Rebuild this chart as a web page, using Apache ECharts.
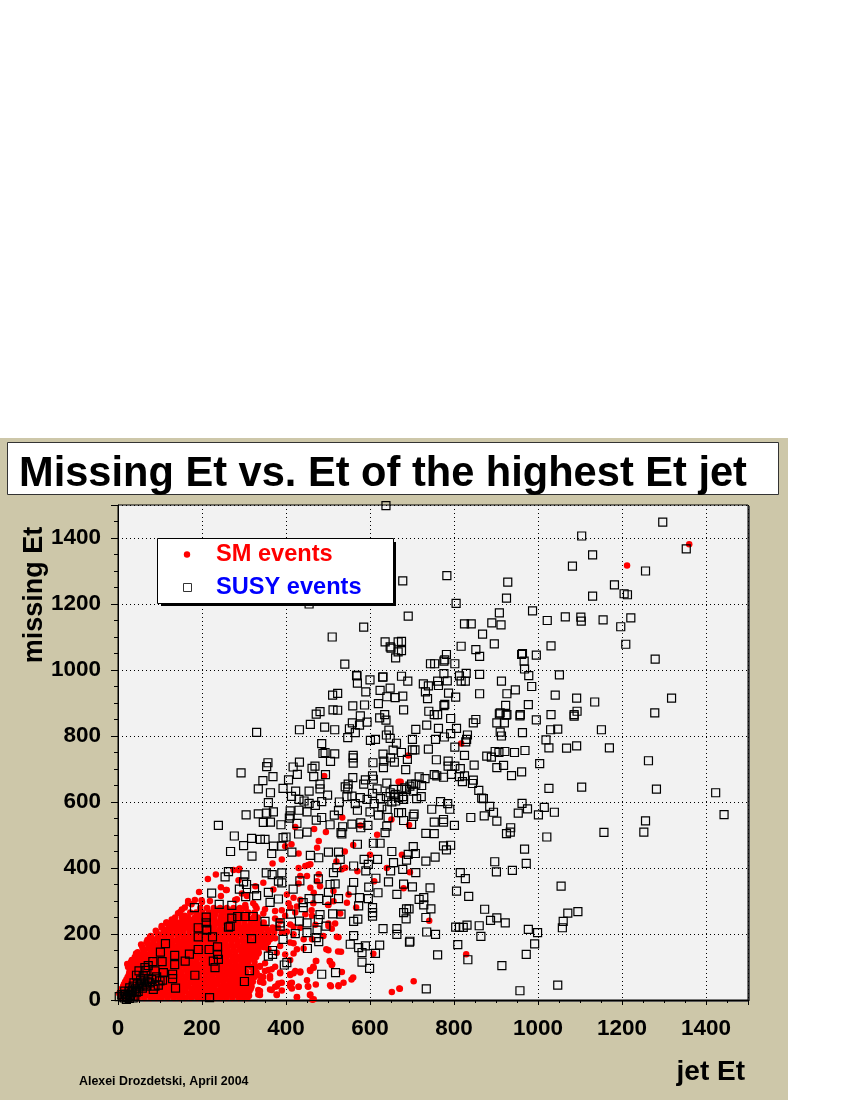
<!DOCTYPE html>
<html><head><meta charset="utf-8">
<style>html,body{margin:0;padding:0;background:#fff}#c{width:850px;height:1100px}</style>
<script src="https://cdn.jsdelivr.net/npm/echarts@6/dist/echarts.min.js"></script></head>
<body><div id="c"></div>
<script>
const xTicksMax = 1500, yTicksMax = 1500;
const titleText = 'Missing Et vs. Et of the highest Et jet';
const xName = 'jet Et', yName = 'missing Et', credit = 'Alexei Drozdetski, April 2004';
const smName = 'SM events', susyName = 'SUSY events';

// SM events: dense core, read row by row as [missing Et, [jet Et ...]]
const smCoreRows = [
[6,[8,22,35,49,63,78,91,104,118,133,147,160,174,189,202,216,231,245,258,272,287,299,308]],
[13,[12,28,44,60,75,90,106,122,137,152,168,183,199,214,229,244,259,275,290,304,312]],
[20,[3,15,29,43,56,70,85,98,111,126,140,153,168,181,196,209,224,238,251,265,280,293,306]],
[27,[6,20,36,52,67,82,98,113,129,145,160,176,191,207,222,238,253,268,284,299,313]],
[34,[9,22,36,50,63,77,92,105,119,132,147,161,175,188,203,216,230,245,258,272,286,300,316]],
[41,[12,27,43,59,74,90,105,121,136,152,167,183,198,214,229,245,260,276,291,307,318]],
[48,[14,28,42,57,70,84,97,112,125,139,154,168,182,195,210,223,237,252,265,279,293,307]],
[55,[17,33,49,64,80,95,111,126,142,157,173,188,204,219,235,250,266,281,297,312,321]],
[62,[20,35,48,63,76,91,104,118,132,146,160,175,188,202,216,231,244,258,273,286,300,311]],
[70,[23,38,54,69,85,100,116,131,147,162,178,193,209,224,240,255,271,286,302,317,325]],
[77,[26,40,54,68,83,97,110,125,139,152,167,181,194,209,223,238,251,265,280,293,304]],
[85,[27,43,58,74,89,105,120,136,151,167,182,198,213,229,244,260,275,291,306,322,328]],
[92,[30,45,60,74,88,103,117,131,145,160,173,188,201,216,230,245,258,272,286,298]],
[100,[24,38,54,69,85,100,116,131,147,162,178,193,209,224,240,255,271,286,302,317,327]],
[107,[36,50,65,80,94,108,122,137,151,165,180,194,208,222,237,251,265,279,293,306]],
[115,[31,47,62,78,93,109,124,140,155,171,186,202,217,233,248,264,279,295,310,325]],
[122,[44,58,72,87,101,115,130,144,158,172,187,201,215,230,243,258,272,286,300,312]],
[130,[40,56,71,87,102,118,133,149,164,180,195,211,226,242,257,273,288,304,319,329]],
[137,[53,67,81,95,110,124,138,152,167,181,195,210,224,238,252,266,280,295,308,318]],
[145,[47,62,78,93,109,124,140,155,171,186,202,217,233,248,264,279,295,310,325,335]],
[152,[62,76,90,104,118,133,147,161,175,190,204,218,232,247,261,275,289,303,316,326]],
[160,[58,74,89,105,120,136,151,167,182,198,213,229,244,260,275,291,306,322,336,348]],
[167,[72,86,100,114,128,143,157,171,185,200,214,228,243,257,271,285,299,313,327,340]],
[175,[68,84,99,115,130,146,161,177,192,208,223,239,254,270,285,301,316,332,345,357]],
[182,[84,98,112,126,140,155,169,183,198,212,226,240,255,269,283,297,312,326,338,348]],
[190,[80,95,111,126,142,157,173,188,204,219,235,250,266,281,297,312,328,343,356,366]],
[197,[98,112,127,141,155,170,184,198,212,227,241,255,270,284,298,312,326,340,352]],
[205,[92,108,123,139,154,170,185,201,216,232,247,263,278,294,309,325,340,356,372]],
[212,[112,126,141,155,170,184,198,213,227,241,256,270,284,299,313,327,342,356]],
[220,[104,120,135,151,166,182,197,213,228,244,259,275,290,306,321,337,352,368,381]],
[228,[128,143,157,172,186,200,215,229,243,258,272,286,301,315,330,344]],
[235,[115,131,146,162,177,193,208,224,239,255,270,286,301,317,332,347]],
[243,[158,172,186,201,215,229,244,258,272,287,301,315,330]],
[250,[136,152,167,183,198,214,229,245,260,276,291,307,322,333]],
[258,[188,203,217,231,246,260,274,289,303]],
[265,[172,186,201,217,232,248,263,279,294,310,325]],
[272,[228,243,257,271,286]],
[279,[196,212,228,243,259,275,290,304]]
];
// SM events: sparse tail
const smTail = [[214,367],[233,380],[193,327],[245,342],[257,333],[245,315],[199,302],[219,300],[275,394],[289,398],[148,267],[167,300],[175,290],[159,280],[159,255],[116,234],[135,239],[78,194],[60,153],[36,118],
[368,414],[390,426],[398,466],[413,472],[430,444],[478,482],[474,461],[446,406],[458,411],[434,376],[450,376],[478,381],[474,360],[513,330],[533,396],[541,401],[549,320],[545,295],[567,280],[513,299],[500,289],[501,224],[509,216],[521,192],[434,304],[466,325],[481,345],[458,340],[418,310],[402,320],[370,335],[346,355],[327,345],[307,315],[283,305],[327,285],[350,275],[374,270],[398,255],[410,280],[422,265],[446,260],[462,255],[470,228],[434,219],[410,229],[386,239],[370,214],[390,204],[418,199],[442,184],[462,184],[489,194],[410,174],[386,164],[362,184],[346,184],[334,159],[358,154],[378,143],[398,138],[426,154],[496,154],[524,147],[472,118],[504,118],[510,108],[533,85],[466,98],[458,88],[434,83],[422,88],[410,78],[386,83],[366,93],[338,103],[350,88],[362,73],[338,73],[346,52],[330,83],[390,52],[378,42],[410,42],[414,52],[430,40],[452,42],[362,32],[338,27],[334,17],[378,17],[390,29],[426,9],[458,17],[466,2],[505,45],[525,45],[537,52],[556,62],[560,68],[652,24],[670,35],[608,140],
[491,679],[534,553],[422,524],[467,518],[495,509],[577,529],[617,501],[651,547],[668,661],[817,777],[691,741],[673,661],[693,530],[676,440],[695,387],[680,339],[741,240],[829,139],[704,57],[671,34],
[1212,1317],[1360,1381],[430,400],[520,420],[560,470],[600,440],[640,400],[610,360],[570,390],[540,450],
[453,409],[287,394],[287,363],[259,333],[295,323],[322,293],[279,303],[303,288],[346,262],[330,278],[374,247],[390,272],[430,353],[406,293],[426,283],[461,272],[501,288],[529,262],[517,232],[465,293],[501,232],[418,222],[402,207],[358,207],[342,192],[374,187],[354,172],[338,161],[334,141],[418,172],[418,141],[410,121],[442,156],[501,151],[531,146],[525,190],[471,118],[505,116],[509,106],[465,101],[457,91],[434,86],[418,81],[410,76],[386,81],[374,101],[350,111],[338,101],[358,91],[362,65],[346,70],[338,55],[382,50],[374,40],[410,50],[430,40],[450,60],[453,40],[471,47],[414,35],[366,30],[334,30],[338,15],[378,15],[426,8],[457,15],[463,1],[507,42],[525,42],
[33,121],[22,109],[43,141],[55,168],[70,182],[76,191],[90,210],[117,233],[143,263],[167,294],[183,303],[200,297],[128,244],[104,224],[152,274]];

// SUSY events
const susyHigh = [[1297,1448],[1104,1406],[1353,1367],[1130,1349],[1082,1315],[1256,1300],[1182,1258],[1205,1231],[1213,1228],[1130,1224],[928,1266],[925,1218],[783,1286],[678,1270],[805,1202],[908,1173],[987,1179],[691,1163],[1022,1150],[1065,1161],[1102,1160],[1103,1148],[1155,1152],[1221,1158],[1197,1131],[1209,1078],[1279,1033],[825,1140],[841,1140],[890,1143],[912,1137],[868,1109],[896,1079],[817,1072],[852,1062],[861,1041],[1031,1073],[963,1050],[961,1047],[996,1045],[967,1027],[968,1003],[978,983],[1051,985],[985,950],[1041,924],[913,966],[946,940],[926,928],[861,987],[861,928],[1092,915],[1135,903],[1318,915],[923,893],[977,895],[1031,865],[1093,875],[1278,870],[782,1047],[778,1031],[776,1027],[744,1019],[754,1019],[802,1019],[675,1087],[675,1059],[776,989],[813,982],[829,990],[817,966],[827,966],[690,966],[675,981],[727,958],[739,952],[763,953],[761,966],[784,967],[732,934],[737,913],[787,930],[804,918],[678,921],[680,879],[778,896],[776,892],[740,875],[761,865],[753,865],[910,870],[926,865],[958,865],[1086,865],
[638,1498],[455,1200],[510,1100],[585,1130],[636,1085],[648,1070],[650,1066],[667,1085],[667,1055],[661,1037],[540,1018],[569,982],[631,979]];
const susyRight = [[1086,860],[957,861],[996,849],[908,867],[924,863],[902,840],[920,840],[852,850],[846,840],[792,853],[806,823],[763,823],[735,833],[709,820],[792,807],[777,797],[756,790],[701,790],[910,812],[913,800],[963,810],[1030,819],[1047,821],[1151,819],[1019,788],[832,803],[830,790],[828,782],[802,766],[825,741],[1026,764],[1068,763],[1092,770],[1170,764],[969,756],[944,750],[921,753],[907,750],[898,753],[878,739],[889,736],[848,712],[918,711],[902,704],[961,691],[937,680],[1004,716],[1263,725],[758,728],[786,724],[786,709],[802,709],[815,701],[739,760],[707,758],[701,758],[689,729],[675,750],[685,698],[717,676],[731,671],[753,683],[759,679],[775,675],[794,684],[813,677],[825,679],[820,662],[846,666],[844,656],[859,635],[866,612],[870,610],[1026,641],[1104,645],[1282,639],[1423,628],[1443,562],[1256,543],[1252,509],[1157,508],[1021,494],[962,596],[975,579],[1015,584],[1039,569],[953,566],[1001,561],[885,587],[894,569],[872,558],[840,553],[902,542],[935,522],[934,509],[925,504],[968,457],[972,414],[897,419],[901,388],[939,393],[815,386],[827,368],[806,330],[835,314],[1055,345],[1095,268],[1071,263],[1060,238],[1058,219],[873,275],[887,241],[902,249],[922,234],[860,225],[831,227],[822,220],[813,220],[804,221],[977,214],[999,204],[992,170],[972,138],[864,193],[809,168],[761,137],[833,122],[914,104],[1047,45],[957,28],[734,34],[695,178],[694,175],[735,206],[756,199],[792,469],[775,467],[782,455],[703,465],[755,433],[733,421],[708,444],[691,441],[687,424],[678,396],[709,386],[701,343],[743,340],[680,351],[717,305],[728,310],[728,288],[745,276],[733,250],[693,276],[687,276],[686,246],[680,265],[747,578],[768,601],[785,595],[790,578],[753,539],[733,505],[753,504],[775,547],[775,539],[801,529],[705,563],[703,556],[675,568],[680,544],[699,532],[711,610],[722,616],[680,608],[683,643],[695,648],[687,638],[678,616],[675,638],[723,650],[703,633],[699,654],[709,654]];
const susyMid = [[330,811],[568,984],[600,970],[630,978],[570,960],[624,938],[648,945],[590,934],[640,919],[660,916],[511,924],[523,929],[620,898],[587,894],[559,891],[481,874],[472,866],[512,879],[523,878],[458,835],[432,819],[492,827],[516,819],[577,861],[558,840],[593,842],[575,833],[623,855],[635,865],[638,848],[551,822],[565,810],[547,795],[601,787],[613,790],[645,818],[639,803],[648,793],[663,778],[485,777],[493,750],[488,747],[516,746],[560,741],[560,734],[560,718],[506,723],[607,719],[655,757],[631,745],[633,724],[649,734],[658,721],[632,704],[432,721],[357,719],[354,707],[417,706],[293,688],[427,684],[462,702],[469,709],[466,677],[494,683],[369,677],[345,665],[406,667],[334,640],[393,641],[363,628],[423,633],[455,633],[499,621],[481,654],[481,640],[559,674],[606,679],[608,669],[589,667],[585,654],[548,654],[541,646],[547,640],[640,657],[656,638],[606,626],[413,617],[431,608],[443,603],[455,596],[358,598],[485,601],[527,600],[565,595],[557,618],[545,616],[577,613],[593,608],[639,616],[657,618],[661,603],[641,578],[643,553],[525,574],[354,566],[334,564],[305,561],[370,570],[410,573],[410,558],[431,575],[408,551],[239,529],[346,538],[363,539],[388,531],[426,535],[472,545],[485,553],[505,531],[557,533],[535,525],[578,537],[578,522],[595,529],[640,527],[636,507],[450,509],[430,503],[531,507],[533,503],[277,497],[318,490],[339,487],[350,487],[393,492],[400,494],[648,628],[660,623],[668,613],[668,568],[617,640],[625,610],[610,595],[628,585],[652,600],[620,560],[600,570],[570,575],[515,560],[450,570],[470,590]];
const susyLow = [[268,450],[299,468],[319,436],[366,444],[370,466],[390,466],[414,448],[458,438],[478,431],[501,448],[525,448],[529,426],[570,472],[608,475],[624,475],[652,450],[618,426],[586,426],[596,411],[561,406],[656,416],[649,391],[590,391],[614,369],[644,358],[664,320],[263,389],[255,373],[302,379],[299,358],[306,350],[223,324],[289,336],[325,337],[353,385],[367,380],[390,385],[382,360],[390,355],[330,316],[358,326],[362,296],[382,306],[304,313],[417,336],[433,361],[477,367],[513,386],[521,401],[561,356],[517,352],[505,350],[557,333],[501,326],[597,342],[619,325],[455,307],[478,307],[441,295],[441,280],[497,302],[525,307],[575,310],[596,307],[573,285],[606,280],[606,265],[606,254],[511,261],[531,260],[182,280],[241,290],[271,287],[210,251],[210,234],[211,214],[285,253],[271,248],[267,223],[263,221],[302,253],[322,253],[350,238],[411,260],[386,234],[386,224],[432,239],[450,234],[450,204],[422,201],[481,259],[477,244],[495,224],[474,212],[561,238],[571,245],[631,216],[664,216],[664,199],[561,195],[472,189],[478,177],[553,169],[573,159],[589,164],[581,144],[623,166],[613,141],[581,115],[599,96],[393,184],[451,156],[191,219],[191,191],[211,212],[225,191],[318,186],[113,171],[101,145],[135,135],[191,153],[217,153],[170,139],[160,118],[237,161],[237,138],[239,123],[227,118],[231,98],[135,107],[105,116],[83,116],[64,98],[130,78],[130,65],[108,83],[88,88],[183,75],[137,36],[313,89],[301,56],[218,7],[358,133],[368,150],[368,138],[402,113],[396,106],[485,78],[518,83]];
const susyOrigin = [[20,2],[3,10],[16,27],[28,37],[36,42],[40,12],[52,42],[68,42],[84,32],[24,17],[32,22],[12,12],[44,75],[60,73],[64,58],[76,52],[88,42],[56,52],[72,63],[22,8],[30,14],[18,18],[26,26],[34,30],[42,34],[48,26],[46,48],[38,52],[54,60],[62,46],[70,55],[80,62],[92,70],[100,58],[96,45],[106,60],[27,5],[15,6],[9,16],[36,6],[44,24],[58,36],[66,90],[72,104],[50,88]];

const smData = smCoreRows.flatMap(([y, xs]) => xs.map(x => [x, y])).concat(smTail);
const susyData = [].concat(susyHigh, susyRight, susyMid, susyLow, susyOrigin);

const FONT = '"Liberation Sans", Arial, sans-serif';
const chart = echarts.init(document.getElementById('c'), null, {renderer:'canvas'});
const plain = v => String(v);
chart.setOption({
  animation:false,
  backgroundColor:'#ffffff',
  title:{text:titleText,left:14,top:449,textStyle:{fontFamily:FONT,fontWeight:'bold',fontSize:41.6,color:'#000'}},
  grid:{left:118,top:505,right:102,bottom:100,show:true,backgroundColor:'#f2f2f2',borderColor:'#000',borderWidth:1},
  tooltip:{show:false},
  xAxis:{type:'value',min:0,max:xTicksMax,interval:200,z:5,
    name:xName,nameLocation:'end',nameGap:0,
    nameTextStyle:{fontFamily:FONT,fontWeight:'bold',fontSize:28,color:'#000',align:'right',verticalAlign:'top',padding:[58,3,0,0]},
    axisLine:{show:true,onZero:false,lineStyle:{color:'#000',width:1}},
    axisTick:{show:true,length:5,lineStyle:{color:'#000'}},
    minorTick:{show:true,splitNumber:4,length:3,lineStyle:{color:'#000'}},
    axisLabel:{showMaxLabel:false,formatter:plain,fontFamily:FONT,fontWeight:'bold',fontSize:22.5,color:'#000',margin:17},
    splitLine:{show:true,lineStyle:{type:[1,3],color:'#000',width:1}},minorSplitLine:{show:false}},
  yAxis:{type:'value',min:0,max:yTicksMax,interval:200,z:5,
    name:yName,nameLocation:'end',nameGap:-90,nameRotate:90,
    nameTextStyle:{fontFamily:FONT,fontWeight:'bold',fontSize:27,color:'#000',align:'center',verticalAlign:'bottom',padding:[0,0,70,0]},
    axisLine:{show:true,onZero:false,lineStyle:{color:'#000',width:1}},
    axisTick:{show:true,length:7,lineStyle:{color:'#000'}},
    minorTick:{show:true,splitNumber:4,length:4,lineStyle:{color:'#000'}},
    axisLabel:{showMaxLabel:false,formatter:plain,fontFamily:FONT,fontWeight:'bold',fontSize:22.5,color:'#000',margin:17},
    splitLine:{show:true,lineStyle:{type:[1,3],color:'#000',width:1}},minorSplitLine:{show:false}},
  series:[
    {name:smName,type:'scatter',data:smData,symbol:'circle',symbolSize:6.5,silent:true,z:3,
     itemStyle:{color:'#ff0000',opacity:1}},
    {name:susyName,type:'scatter',data:susyData,symbol:'rect',symbolSize:8,silent:true,z:4,
     itemStyle:{color:'rgba(0,0,0,0)',borderColor:'#000',borderWidth:1.2,opacity:1}}
  ],
  graphic:[
    {type:'rect',z:-10,shape:{x:0,y:438,width:788,height:662},style:{fill:'#cdc7a9'}},
    {type:'rect',z:-9,shape:{x:7.5,y:442.5,width:771,height:52},style:{fill:'#fff',stroke:'#333',lineWidth:1}},
    {type:'line',z:-8,shape:{x1:749,y1:506,x2:749,y2:1001},style:{stroke:'#555',lineWidth:2}},
    {type:'line',z:-8,shape:{x1:119,y1:1001,x2:749,y2:1001},style:{stroke:'#555',lineWidth:2}},
    {type:'rect',z:40,shape:{x:161,y:542,width:235,height:64},style:{fill:'#000'}},
    {type:'rect',z:41,shape:{x:157.5,y:538.5,width:236,height:65},style:{fill:'#fff',stroke:'#000',lineWidth:1}},
    {type:'circle',z:42,shape:{cx:187,cy:554.5,r:3.2},style:{fill:'#ff0000'}},
    {type:'rect',z:42,shape:{x:183.5,y:583.5,width:8,height:8},style:{fill:'none',stroke:'#333',lineWidth:1}},
    {type:'text',z:42,x:216,y:554.5,style:{text:smName,fill:'#ff0000',font:'bold 23.6px '+FONT,textVerticalAlign:'middle'}},
    {type:'text',z:42,x:216,y:587.5,style:{text:susyName,fill:'#0000ff',font:'bold 23.6px '+FONT,textVerticalAlign:'middle'}},
    {type:'text',z:42,x:79,y:1082,style:{text:credit,fill:'#000',font:'bold 12.4px '+FONT,textVerticalAlign:'middle'}}
  ]
});
</script></body></html>
